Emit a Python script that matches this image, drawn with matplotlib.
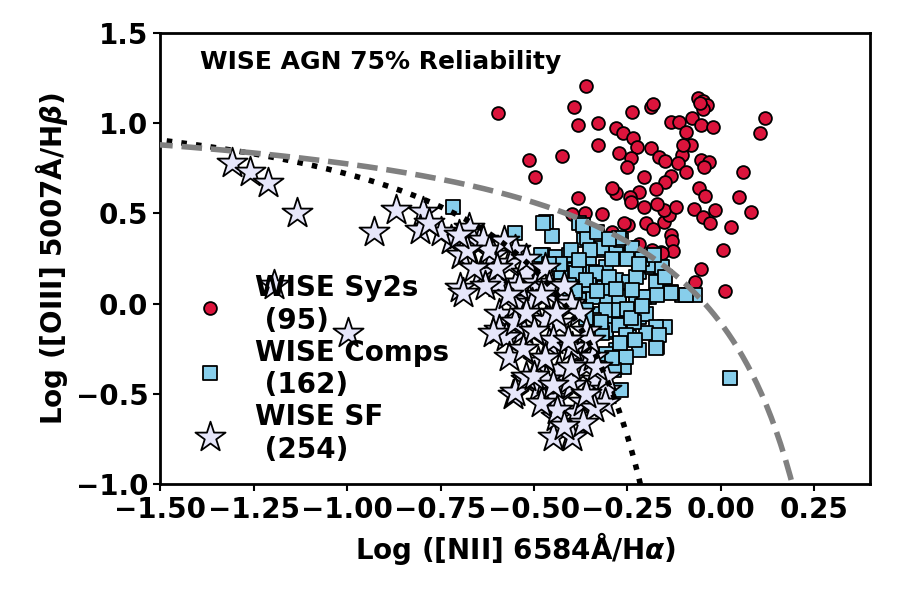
import numpy as np
import matplotlib
matplotlib.use('Agg')
import matplotlib.pyplot as plt
from matplotlib.ticker import FuncFormatter

plt.rcParams['font.family'] = ['DejaVu Sans']
plt.rcParams['font.weight'] = 'bold'

# WISE Sy2s (red circles)
sy2_x = [-0.361, -0.595, -0.392, -0.381, -0.328, -0.237, -0.188, -0.182, -0.280, -0.263,
         -0.235, -0.223, -0.328, -0.272, -0.241, -0.252, -0.188, -0.166, -0.148, -0.134,
         -0.112, -0.094, -0.077, -0.061, -0.048, -0.037, -0.048, -0.054, -0.021, -0.081,
         -0.105, -0.114, -0.094, -0.052, -0.032, -0.133, -0.149, -0.206, -0.174, -0.219,
         -0.244, -0.241, -0.206, -0.281, -0.381, -0.514, -0.425, -0.498, -0.317, -0.363,
         -0.397, -0.292, -0.248, -0.201, -0.182, -0.152, -0.139, -0.152, -0.119, -0.072,
         -0.048, -0.028, -0.016, -0.059, -0.043, 0.050, 0.059, 0.082, 0.028, 0.006,
         0.117, 0.106, -0.132, -0.130, -0.128, -0.161, -0.185, -0.052, -0.068, 0.010,
         -0.157, -0.219, -0.055, -0.260, -0.290, -0.100, -0.170, -0.045]
sy2_y = [1.208, 1.055, 1.091, 0.990, 1.003, 1.064, 1.088, 1.105, 0.972, 0.947,
         0.916, 0.866, 0.879, 0.833, 0.805, 0.759, 0.861, 0.814, 0.792, 1.005,
         1.005, 0.950, 1.027, 1.138, 1.125, 1.101, 1.079, 0.990, 0.981, 0.879,
         0.824, 0.781, 0.728, 0.796, 0.783, 0.709, 0.672, 0.700, 0.635, 0.620,
         0.589, 0.562, 0.537, 0.611, 0.584, 0.796, 0.818, 0.703, 0.497, 0.501,
         0.497, 0.399, 0.436, 0.445, 0.412, 0.454, 0.491, 0.519, 0.534, 0.523,
         0.482, 0.448, 0.519, 0.639, 0.597, 0.593, 0.728, 0.509, 0.426, 0.297,
         1.031, 0.947, 0.380, 0.349, 0.293, 0.288, 0.297, 0.190, 0.121, 0.072,
         0.280, 0.330, 1.110, 0.450, 0.640, 0.880, 0.550, 0.760]

# WISE composites (blue squares)
comp_x = [-0.717, -0.550, -0.468, -0.452, -0.379, -0.366, -0.477, -0.441, -0.406, -0.352,
          -0.317, -0.281, -0.241, -0.450, -0.415, -0.379, -0.343, -0.308, -0.281, -0.246,
          -0.219, -0.183, -0.161, -0.174, -0.134, -0.103, -0.068, -0.192, -0.228, -0.272,
          -0.308, -0.343, -0.379, -0.415, -0.219, -0.201, -0.148, -0.174, -0.201, -0.246,
          -0.170, -0.219, -0.259, -0.308, -0.290, -0.326, -0.281, -0.254,
          -0.357, -0.317, -0.268, -0.237, -0.192, -0.157, -0.134, -0.094, -0.228, -0.326,
          -0.406, -0.206, -0.272,
          -0.370, -0.272, -0.428, -0.388, -0.335, -0.406, -0.352, -0.312, -0.237, -0.308,
          -0.272, -0.232, -0.361, -0.339, -0.308, -0.272, -0.254, -0.166,
          -0.317, -0.174, -0.286, -0.268, -0.308, 0.024, -0.477, -0.482,
          -0.330, -0.300, -0.350, -0.400, -0.430, -0.460, -0.380, -0.290, -0.250, -0.210,
          -0.300, -0.360, -0.390, -0.330, -0.280, -0.250, -0.360, -0.320, -0.270, -0.230,
          -0.290, -0.240, -0.210, -0.170, -0.150, -0.180, -0.220]
comp_y = [0.537, 0.390, 0.454, 0.376, 0.445, 0.353, 0.269, 0.260, 0.269, 0.242,
          0.297, 0.315, 0.297, 0.177, 0.186, 0.196, 0.177, 0.205, 0.131, 0.121,
          0.177, 0.205, 0.205, 0.121, 0.066, 0.048, 0.048, 0.037, 0.037, 0.002,
          0.020, 0.037, 0.020, 0.037, -0.073, -0.055, -0.128, -0.128, -0.165, -0.183,
          -0.239, -0.257, -0.350, -0.156, -0.091, -0.055, -0.257, -0.294,
          0.362, 0.307, 0.353, 0.307, 0.214, 0.205, 0.057, 0.048, 0.149, 0.131,
          0.168, 0.037, 0.037,
          0.436, 0.362, 0.177, 0.168, 0.168, 0.103, 0.103, 0.085, 0.076, -0.035,
          -0.035, -0.100, -0.035, -0.091, -0.146, -0.118, -0.174, -0.174,
          -0.165, -0.248, -0.368, -0.479, -0.276, -0.412, 0.446, 0.269,
          0.400, 0.360, 0.300, 0.300, 0.220, 0.220, 0.240, 0.250, 0.250, 0.250,
          0.150, 0.130, 0.070, 0.070, 0.080, -0.030, -0.080, -0.100, -0.220, -0.200,
          -0.300, -0.080, -0.010, 0.050, 0.150, 0.270, 0.220]

# WISE star-forming (stars)
sf_x = [-1.308, -1.260, -1.212, -1.134, -0.929, -0.868, -0.797, -0.806, -0.721, -0.673,
        -0.646, -1.196, -0.998,
        -0.695, -0.637, -0.641, -0.699, -0.597, -0.548, -0.566, -0.521, -0.495, -0.593,
        -0.548, -0.512, -0.593, -0.530, -0.610,
        -0.575, -0.566, -0.521, -0.557, -0.450, -0.401, -0.437, -0.441, -0.388, -0.370,
        -0.459, -0.490, -0.388, -0.432, -0.361, -0.335, -0.397, -0.486, -0.326, -0.308,
        -0.432, -0.610,
        -0.691, -0.552, -0.521, -0.397, -0.437, -0.468, -0.504, -0.432, -0.539, -0.450,
        -0.397, -0.343, -0.406, -0.308, -0.468,
        -0.620, -0.600, -0.550, -0.520, -0.470, -0.460, -0.420, -0.400, -0.380, -0.360,
        -0.350, -0.330, -0.310, -0.340, -0.370, -0.420, -0.480, -0.500, -0.530, -0.550,
        -0.570, -0.630, -0.660, -0.680, -0.580, -0.520, -0.470, -0.450, -0.400, -0.410,
        -0.440, -0.480, -0.500, -0.360, -0.750, -0.700, -0.780]
sf_y = [0.779, 0.730, 0.669, 0.502, 0.397, 0.519, 0.509, 0.408, 0.353, 0.417,
        0.343, 0.103, -0.163,
        0.269, 0.353, 0.177, 0.085, 0.113, 0.113, 0.223, 0.168, 0.113, -0.055,
        0.000, 0.020, -0.146, -0.146, 0.269,
        -0.183, -0.294, -0.423, -0.507, -0.738, -0.728, -0.525, -0.627, -0.608, -0.544,
        -0.220, -0.322, -0.267, -0.359, -0.340, -0.423, -0.451, -0.460, -0.516, -0.479,
        -0.109, -0.165,
        0.057, -0.489, -0.405, -0.738, -0.590, -0.091, 0.002, 0.020, 0.094, -0.202,
        -0.239, -0.294, -0.423, -0.405, -0.423,
        0.300, 0.200, 0.300, 0.250, 0.200, 0.100, 0.100, 0.000, -0.050, -0.150,
        -0.200, -0.350, -0.550, -0.580, -0.660, -0.680, -0.550, -0.400, -0.250, -0.100,
        0.050, 0.100, 0.200, 0.300, 0.350, -0.050, -0.300, -0.450, -0.350, -0.200,
        -0.050, 0.050, -0.150, -0.500, 0.400, 0.380, 0.450]

# demarcation lines (Kauffmann 2003, Kewley 2001)
ka_x = np.linspace(-1.6, 0.0, 300)
ka_y = 0.61 / (ka_x - 0.05) + 1.3
ke_x = np.linspace(-1.6, 0.3, 300)
ke_y = 0.61 / (ke_x - 0.47) + 1.19

fig = plt.figure(figsize=(9, 6), dpi=100)
ax = fig.add_axes([0.178, 0.193, 0.789, 0.752])

ax.scatter(sy2_x, sy2_y, s=85, c='crimson', edgecolors='black', linewidths=1.3,
           label='WISE Sy2s\n (95)', zorder=2)
ax.scatter(comp_x, comp_y, s=110, c='skyblue', marker='s', edgecolors='black',
           linewidths=1.3, label='WISE Comps\n (162)', zorder=3)
ax.scatter(sf_x, sf_y, s=520, c='lavender', marker='*', edgecolors='black',
           linewidths=1.3, label='WISE SF\n (254)', zorder=4)

ax.plot(ka_x, ka_y, color='black', linestyle=':', linewidth=4, zorder=5)
ax.plot(ke_x, ke_y, color='gray', linestyle='--', linewidth=4, zorder=5)

ax.set_xlim(-1.5, 0.4)
ax.set_ylim(-1.0, 1.5)
ax.set_xticks(np.arange(-1.5, 0.26, 0.25))
ax.set_yticks(np.arange(-1.0, 1.51, 0.5))
ax.xaxis.set_major_formatter(FuncFormatter(lambda v, p: ('%.2f' % v).replace('-', '\u2212')))
ax.yaxis.set_major_formatter(FuncFormatter(lambda v, p: ('%.1f' % v).replace('-', '\u2212')))
ax.tick_params(labelsize=20, width=1.5, length=5)
for sp in ax.spines.values():
    sp.set_linewidth(2)

ax.set_xlabel(r'Log ([NII] 6584Å/H$\alpha$)', fontsize=20, fontweight='bold')
ax.set_ylabel(r'Log ([OIII] 5007Å/H$\beta$)', fontsize=20, fontweight='bold')
ax.text(0.056, 0.936, 'WISE AGN 75% Reliability', transform=ax.transAxes,
        fontsize=18, fontweight='bold', va='center', ha='left')

ax.legend(loc='lower left', bbox_to_anchor=(-0.004, -0.01), frameon=False,
          prop={'size': 20, 'weight': 'bold'}, labelspacing=0.15, handletextpad=0.6)

plt.savefig('out.png', dpi=100)
